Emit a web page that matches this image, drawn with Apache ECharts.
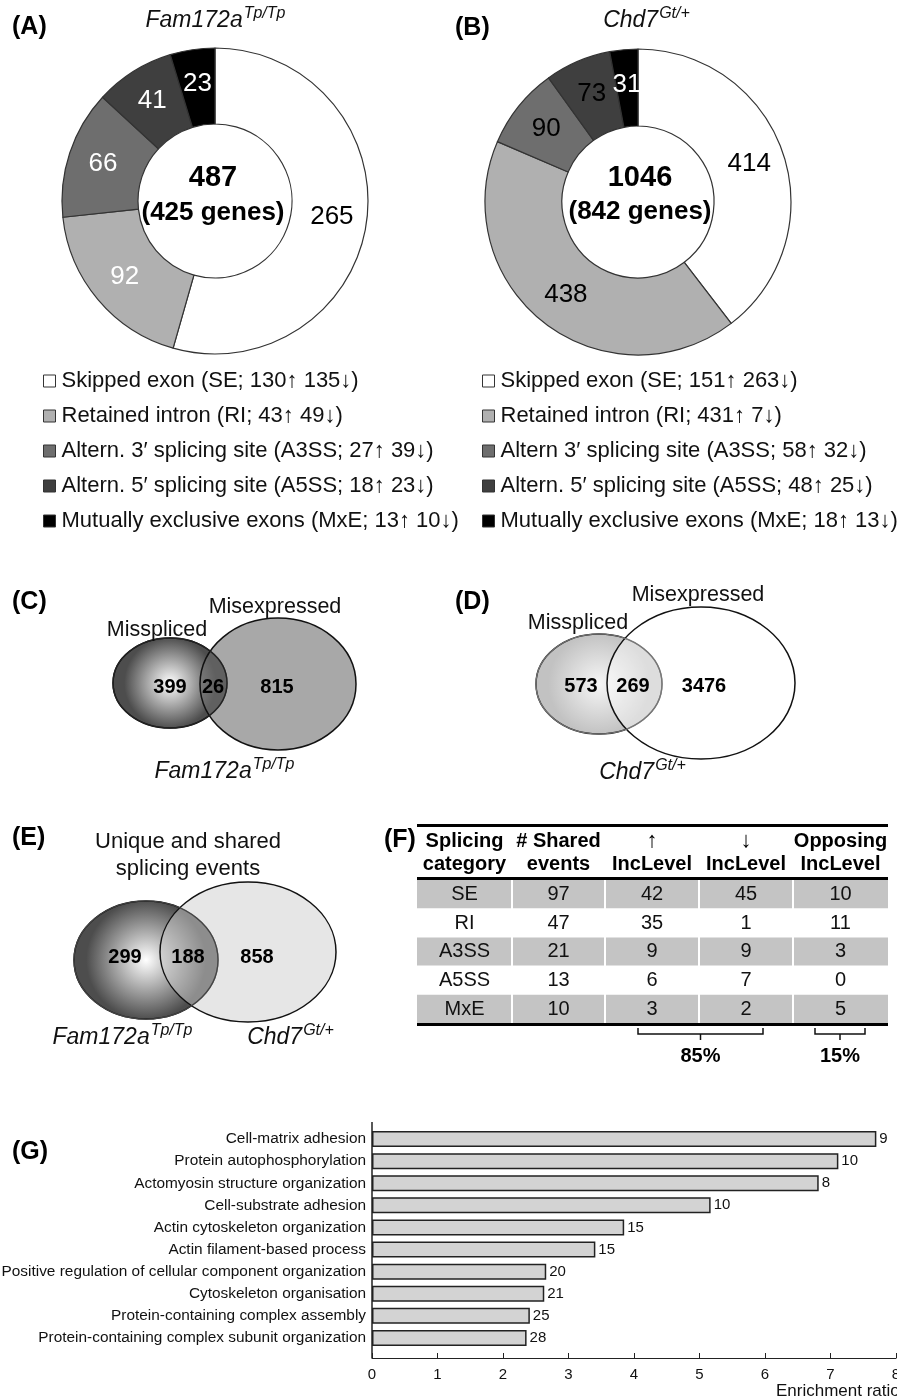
<!DOCTYPE html>
<html><head><meta charset="utf-8">
<script src="https://cdn.jsdelivr.net/npm/echarts@6/dist/echarts.min.js"></script>
<style>html,body{margin:0;padding:0;background:#fff}#c{width:897px;height:1399px}</style>
</head><body><div id="c"></div>
<script>
const FONT = "'Liberation Sans', Arial, Helvetica, sans-serif";

// ---------- Panels A / B : splicing events ----------
const spliceNamesA = ['Skipped exon', 'Retained intron', 'Altern. 3′ splicing site', 'Altern. 5′ splicing site', 'Mutually exclusive exons'];
const spliceNamesB = ['Skipped exon', 'Retained intron', 'Altern 3′ splicing site', 'Altern. 5′ splicing site', 'Mutually exclusive exons'];
const spliceAbbr = ['SE', 'RI', 'A3SS', 'A5SS', 'MxE'];
const famUp = [130, 43, 27, 18, 13];
const famDown = [135, 49, 39, 23, 10];
const chdUp = [151, 431, 58, 48, 18];
const chdDown = [263, 7, 32, 25, 13];
const famTotal = [487, 425];   // events, genes
const chdTotal = [1046, 842];
const sliceColors = ['#ffffff', '#b0b0b0', '#6e6e6e', '#3f3f3f', '#000000'];
const labelColorsA = ['#000', '#fff', '#fff', '#fff', '#fff'];
const labelColorsB = ['#000', '#000', '#000', '#000', '#fff'];

// ---------- Panels C / D / E : Venn counts ----------
const vennC = [399, 26, 815];
const vennD = [573, 269, 3476];
const vennE = [299, 188, 858];

// ---------- Panel F : shared events table ----------
const tableCats = ['SE', 'RI', 'A3SS', 'A5SS', 'MxE'];
const sharedEvents = [97, 47, 21, 13, 10];
const upInc = [42, 35, 9, 6, 3];
const downInc = [45, 1, 9, 7, 2];
const opposingInc = [10, 11, 3, 0, 5];
const tableHead1 = ['Splicing', '# Shared', '↑', '↓', 'Opposing'];
const tableHead2 = ['category', 'events', 'IncLevel', 'IncLevel', 'IncLevel'];

// ---------- Panel G : GO enrichment ----------
const goTerms = ['Cell-matrix adhesion', 'Protein autophosphorylation', 'Actomyosin structure organization',
  'Cell-substrate adhesion', 'Actin cytoskeleton organization', 'Actin filament-based process',
  'Positive regulation of cellular component organization', 'Cytoskeleton organisation',
  'Protein-containing complex assembly', 'Protein-containing complex subunit organization'];
const enrichment = [7.70, 7.12, 6.82, 5.17, 3.85, 3.41, 2.66, 2.63, 2.41, 2.36];
const geneCounts = [9, 10, 8, 10, 15, 15, 20, 21, 25, 28];

// ================================================================
const ctx = document.createElement('canvas').getContext('2d');
function tw(t, size, style, weight) { ctx.font = `${style||'normal'} ${weight||'normal'} ${size}px ${FONT}`; return ctx.measureText(t).width; }

const G = [];
function txt(x, y, text, o = {}) {
  G.push({ type: 'text', x, y, silent: true, z: o.z || 20,
    style: { text: String(text), fontSize: o.size || 20, fontFamily: FONT,
      fontWeight: o.bold ? 'bold' : 'normal', fontStyle: o.italic ? 'italic' : 'normal',
      fill: o.color || '#111', align: o.align || 'center', verticalAlign: 'middle' } });
}
function supTitle(cx, cy, main, sup, size, supSize) {
  const w1 = tw(main, size, 'italic'), w2 = tw(sup, supSize, 'italic');
  const x0 = cx - (w1 + w2) / 2;
  txt(x0, cy, main, { size, italic: true, align: 'left' });
  txt(x0 + w1 + 1, cy - size * 0.32, sup, { size: supSize, italic: true, align: 'left' });
}
function ellipse(cx, cy, rx, ry, fill, stroke, lw, z) {
  G.push({ type: 'ellipse', silent: true, z, shape: { cx, cy, rx, ry },
    style: { fill: fill || 'none', stroke: stroke || 'none', lineWidth: lw || 0 } });
}
function radial(c0, c1) {
  return { type: 'radial', x: 0.5, y: 0.5, r: 0.5, colorStops: [{ offset: 0, color: c0 }, { offset: 1, color: c1 }] };
}
function rect(x, y, w, h, fill, z) { G.push({ type: 'rect', silent: true, z: z || 5, shape: { x, y, width: w, height: h }, style: { fill } }); }
function pline(points, z) { G.push({ type: 'polyline', silent: true, z: z || 10, shape: { points }, style: { stroke: '#111', lineWidth: 1.5, fill: 'none' } }); }

// panel letters
[['(A)', 12, 27], ['(B)', 455, 28], ['(C)', 12, 602], ['(D)', 455, 602], ['(E)', 12, 838], ['(F)', 384, 840], ['(G)', 12, 1152]]
  .forEach(([t, x, y]) => txt(x, y, t, { size: 25, bold: true, align: 'left', color: '#000' }));

// titles A / B
supTitle(215, 21, 'Fam172a', 'Tp/Tp', 23, 16);
supTitle(646, 21, 'Chd7', 'Gt/+', 23, 16);
// donut centres
txt(213, 178, famTotal[0], { size: 29, bold: true, color: '#000' });
txt(213, 213, `(${famTotal[1]} genes)`, { size: 26, bold: true, color: '#000' });
txt(640, 178, chdTotal[0], { size: 29, bold: true, color: '#000' });
txt(640, 212, `(${chdTotal[1]} genes)`, { size: 26, bold: true, color: '#000' });

// ---- Venn C
ellipse(170, 683, 57, 45, radial('#ffffff', '#4d4d4d'), '#111', 1.5, 1);
ellipse(278, 684, 78, 66, 'rgba(110,110,110,0.6)', '#111', 1.5, 2);
ellipse(170, 683, 57, 45, null, '#222', 1.3, 3);
txt(275, 607, 'Misexpressed', { size: 21.5 });
txt(157, 630, 'Misspliced', { size: 21.5 });
txt(170, 687, vennC[0], { size: 20, bold: true, color: '#000' });
txt(213, 687, vennC[1], { size: 20, bold: true, color: '#000' });
txt(277, 687, vennC[2], { size: 20, bold: true, color: '#000' });
supTitle(224, 772, 'Fam172a', 'Tp/Tp', 23, 16);

// ---- Venn D
ellipse(599, 684, 63, 50, radial('#f6f6f6', '#c2c2c2'), '#222', 1.5, 1);
ellipse(701, 683, 94, 76, 'rgba(255,255,255,0.45)', '#111', 1.5, 2);
ellipse(599, 684, 63, 50, null, '#777', 1.2, 3);
txt(698, 595, 'Misexpressed', { size: 21.5 });
txt(578, 623, 'Misspliced', { size: 21.5 });
txt(581, 686, vennD[0], { size: 20, bold: true, color: '#000' });
txt(633, 686, vennD[1], { size: 20, bold: true, color: '#000' });
txt(704, 686, vennD[2], { size: 20, bold: true, color: '#000' });
supTitle(642, 773, 'Chd7', 'Gt/+', 23, 16);

// ---- Venn E
ellipse(146, 960, 72, 59, radial('#ffffff', '#4d4d4d'), '#111', 1.5, 1);
ellipse(248, 952, 88, 70, 'rgba(205,205,205,0.5)', '#111', 1.5, 2);
ellipse(146, 960, 72, 59, null, '#444', 1.2, 3);
txt(188, 842, 'Unique and shared', { size: 22 });
txt(188, 869, 'splicing events', { size: 22 });
txt(125, 957, vennE[0], { size: 20, bold: true, color: '#000' });
txt(188, 957, vennE[1], { size: 20, bold: true, color: '#000' });
txt(257, 957, vennE[2], { size: 20, bold: true, color: '#000' });
supTitle(122, 1038, 'Fam172a', 'Tp/Tp', 23, 16);
supTitle(290, 1038, 'Chd7', 'Gt/+', 23, 16);

// ---- Table F
const colX = [417, 512, 605, 699, 793, 888];
const rowTop = 880, rowH = 28.7;
const tW = colX[5] - colX[0];
rect(colX[0], 824, tW, 3, '#000', 8);
rect(colX[0], 877, tW, 3, '#000', 8);
rect(colX[0], 1023, tW, 3, '#000', 8);
for (let c = 0; c < 5; c++) {
  const cx = (colX[c] + colX[c + 1]) / 2;
  const isArrow = tableHead1[c].length === 1;
  txt(cx, 841, tableHead1[c], { size: isArrow ? 22 : 20, bold: !isArrow, color: '#000' });
  txt(cx, 864, tableHead2[c], { size: 20, bold: true, color: '#000' });
}
tableCats.forEach((cat, r) => {
  const y = rowTop + r * rowH;
  const vals = [cat, sharedEvents[r], upInc[r], downInc[r], opposingInc[r]];
  for (let c = 0; c < 5; c++) {
    if (r % 2 === 0) rect(colX[c] + (c ? 1 : 0), y, colX[c + 1] - colX[c] - (c ? 1 : 0) - (c < 4 ? 1 : 0), rowH - 0.5, '#c4c4c4', 5);
    txt((colX[c] + colX[c + 1]) / 2, y + rowH / 2, vals[c], { size: 20, color: '#111' });
  }
});
const sum = a => a.reduce((s, v) => s + v, 0);
const pctSame = Math.round(100 * (sum(upInc) + sum(downInc)) / sum(sharedEvents));
const pctOpp = Math.round(100 * sum(opposingInc) / sum(sharedEvents));
const b1 = [colX[2] + 33, colX[4] - 30], b2 = [colX[4] + 22, colX[5] - 23];
[[b1, pctSame], [b2, pctOpp]].forEach(([b, p]) => {
  const mid = (b[0] + b[1]) / 2;
  pline([[b[0], 1028], [b[0], 1034], [b[1], 1034], [b[1], 1028]]);
  pline([[mid, 1034], [mid, 1040]]);
  txt(mid, 1056, p + '%', { size: 20, bold: true, color: '#000' });
});

// ---- Panel G extras
G.push({ type: 'line', silent: true, z: 10, shape: { x1: 372, y1: 1122, x2: 372, y2: 1358 }, style: { stroke: '#222', lineWidth: 1.5 } });
txt(776, 1391, 'Enrichment ratio', { size: 17, align: 'left' });

// ================================================================
function pieData(names, up, down, labelColors) {
  return names.map((n, i) => ({
    name: `${n} (${spliceAbbr[i]}; ${up[i]}↑ ${down[i]}↓)`,
    value: up[i] + down[i],
    itemStyle: { color: sliceColors[i] },
    label: { color: labelColors[i] }
  }));
}
const dataA = pieData(spliceNamesA, famUp, famDown, labelColorsA);
const dataB = pieData(spliceNamesB, chdUp, chdDown, labelColorsB);

function pieSeries(center, radius, data) {
  return {
    type: 'pie', center, radius, startAngle: 90, clockwise: true, silent: true,
    avoidLabelOverlap: false, data,
    itemStyle: { borderColor: '#333', borderWidth: 1.2 },
    label: { show: true, position: 'inside', formatter: p => p.value, fontSize: 26, fontFamily: FONT },
    labelLine: { show: false }, emphasis: { disabled: true }
  };
}
const legendBase = {
  orient: 'vertical', top: 370, itemWidth: 12, itemHeight: 12, itemGap: 13, icon: 'rect',
  selectedMode: false, padding: 0,
  itemStyle: { borderColor: '#333', borderWidth: 1 },
  textStyle: { fontSize: 22, fontFamily: FONT, color: '#111', lineHeight: 22, padding: [0, 0, 0, 1] }
};

const chart = echarts.init(document.getElementById('c'), null, { width: 897, height: 1399 });
chart.setOption({
  animation: false,
  backgroundColor: '#fff',
  textStyle: { fontFamily: FONT },
  legend: [
    Object.assign({}, legendBase, { left: 43, data: dataA.map(d => d.name) }),
    Object.assign({}, legendBase, { left: 482, data: dataB.map(d => d.name) })
  ],
  grid: [{ left: 372, right: 1, top: 1128, height: 221, outerBoundsMode: 'none', containLabel: false }],
  xAxis: [{
    type: 'value', min: 0, max: 8, interval: 1, offset: 9,
    axisLine: { show: true, lineStyle: { color: '#222', width: 1.2 } },
    axisTick: { show: true, inside: true, length: 5, lineStyle: { color: '#222' } },
    axisLabel: { fontSize: 15, color: '#111', margin: 9, fontFamily: FONT },
    splitLine: { show: false }
  }],
  yAxis: [{
    type: 'category', data: goTerms, inverse: true,
    axisLine: { show: false }, axisTick: { show: false },
    axisLabel: { fontSize: 15.4, color: '#111', margin: 6, fontFamily: FONT }
  }],
  series: [
    pieSeries([215, 201], [77, 153], dataA),
    pieSeries([638, 202], [76, 153], dataB),
    {
      type: 'bar', data: enrichment, barWidth: 16, silent: true,
      itemStyle: { color: '#d3d3d3', borderColor: '#222', borderWidth: 1.5 },
      label: { show: true, position: 'right', distance: 3, formatter: p => geneCounts[p.dataIndex], fontSize: 15, color: '#111', fontFamily: FONT }
    }
  ],
  graphic: G
});
</script></body></html>
